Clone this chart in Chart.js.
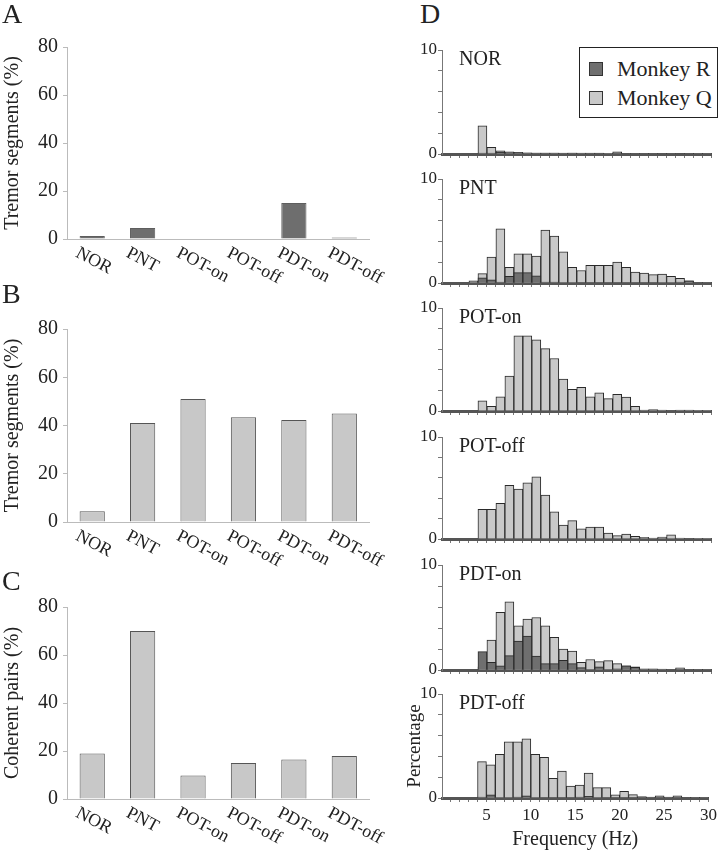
<!DOCTYPE html>
<html>
<head>
<meta charset="utf-8">
<title>Tremor segments, coherent pairs and tremor frequency</title>
<script src="https://cdn.jsdelivr.net/npm/chart.js@4.4.1/dist/chart.umd.min.js"></script>
<style>
  body { margin: 0; background: #fff; }
  #fig { position: relative; width: 720px; height: 853px; overflow: hidden;
         font-family: "Liberation Serif", "DejaVu Serif", serif; color: #222; }
  #fig canvas { position: absolute; }
  .letter { position: absolute; font-size: 28px; line-height: 28px; }
  #legend { position: absolute; left: 579px; top: 47px; width: 139px; height: 71px;
            border: 1px solid #222; box-sizing: border-box; background: #fff; }
  #legend .sw { position: absolute; left: 9px; width: 14px; height: 14px; box-sizing: border-box; border: 1px solid #333; }
  #legend .tx { position: absolute; left: 37px; font-size: 22px; line-height: 22px; white-space: nowrap; }
</style>
</head>
<body>
<div id="fig">
  <canvas id="chartA"></canvas>
  <canvas id="chartB"></canvas>
  <canvas id="chartC"></canvas>
  <canvas id="histNOR"></canvas>
  <canvas id="histPNT"></canvas>
  <canvas id="histPOTon"></canvas>
  <canvas id="histPOToff"></canvas>
  <canvas id="histPDTon"></canvas>
  <canvas id="histPDToff"></canvas>

  <div class="letter" style="left:2px;top:0px">A</div>
  <div class="letter" style="left:2px;top:280px">B</div>
  <div class="letter" style="left:2px;top:567px">C</div>
  <div class="letter" style="left:420px;top:0px">D</div>

  <div id="legend">
    <div class="sw" style="top:14px;background:#6f6f6f"></div>
    <div class="tx" style="top:10px">Monkey R</div>
    <div class="sw" style="top:43px;background:#c9c9c9"></div>
    <div class="tx" style="top:39px">Monkey Q</div>
  </div>
</div>

<script>
// ---- data ----
const groups = ['NOR', 'PNT', 'POT-on', 'POT-off', 'PDT-on', 'PDT-off'];
const tremorSegmentsA = [1.2, 4.6, 0, 0, 15, 0.6];
const tremorSegmentsB = [4.5, 41, 51, 43.4, 42.3, 45];
const coherentPairsC = [19, 70, 9.8, 15, 16.5, 17.9];
const leftYTicks = [0, 20, 40, 60, 80];

// 1 Hz bins, upper edge of each bin
const freqBins = [1, 2, 3, 4, 5, 6, 7, 8, 9, 10, 11, 12, 13, 14, 15,
                  16, 17, 18, 19, 20, 21, 22, 23, 24, 25, 26, 27, 28, 29, 30];
const freqLabels = [5, 10, 15, 20, 25, 30];
const histYTicks = [0, 2, 4, 6, 8, 10];
const histYLabels = [0, 10];

const norQ = [0, 0, 0, 0, 2.7, 0.65, 0.3, 0.2, 0.15, 0.12, 0.1, 0.1, 0.08, 0.1, 0.08,
              0.06, 0.08, 0.05, 0.06, 0.2, 0.05, 0.05, 0.04, 0.05, 0.04, 0.05, 0.05, 0.04, 0.03, 0.03];
const norR = [0, 0, 0, 0, 0.1, 0.1, 0.15, 0.12, 0.1, 0.1, 0.08, 0.08, 0.1, 0.06, 0.08,
              0.1, 0.06, 0.1, 0.05, 0.08, 0.06, 0.05, 0.06, 0.05, 0.04, 0.05, 0.04, 0.03, 0.03, 0.02];
const pntQ = [0, 0, 0, 0.2, 0.9, 2.5, 5.2, 1.5, 2.8, 2.8, 2.6, 5.1, 4.5, 3.0, 1.5,
              1.2, 1.7, 1.7, 1.7, 2.0, 1.5, 1.05, 0.95, 0.8, 0.85, 0.65, 0.45, 0.2, 0.05, 0.03];
const pntR = [0, 0, 0, 0, 0.5, 0.3, 0.1, 0.65, 1.0, 1.0, 0.7, 0.1, 0.1, 0.05, 0.05,
              0.03, 0.03, 0.03, 0.03, 0.03, 0.03, 0.03, 0.03, 0.03, 0.05, 0.05, 0.1, 0.2, 0.05, 0.03];
const potOnQ = [0, 0, 0, 0, 0.98, 0.45, 1.37, 3.4, 7.3, 7.3, 6.9, 6.05, 5.1, 3.1, 2.1,
                2.3, 1.37, 1.76, 1.2, 1.63, 1.34, 0.45, 0.1, 0.13, 0.1, 0.05, 0.08, 0.1, 0.03, 0.02];
const potOnR = [0, 0, 0, 0, 0, 0, 0, 0, 0, 0, 0, 0, 0, 0, 0,
                0, 0, 0, 0, 0, 0, 0, 0, 0, 0, 0, 0, 0, 0, 0];
const potOffQ = [0, 0, 0, 0, 2.9, 2.9, 3.5, 5.26, 4.9, 5.5, 6.1, 4.3, 2.66, 1.36, 1.8,
                 1.0, 1.17, 1.17, 0.58, 0.33, 0.49, 0.26, 0.16, 0.1, 0.2, 0.4, 0.1, 0.05, 0.02, 0.02];
const potOffR = [0, 0, 0, 0, 0, 0, 0, 0, 0, 0, 0, 0, 0, 0, 0,
                 0, 0, 0, 0, 0, 0, 0, 0, 0, 0, 0, 0, 0, 0, 0];
const pdtOnQ = [0, 0, 0, 0, 0.3, 2.86, 5.5, 6.5, 4.2, 4.86, 5.0, 4.2, 3.1, 2.0, 1.8,
                0.73, 1.0, 0.8, 0.9, 0.6, 0.4, 0.3, 0.1, 0.1, 0.08, 0.05, 0.2, 0.05, 0.03, 0.02];
const pdtOnR = [0, 0, 0, 0, 1.75, 0.73, 0.4, 1.37, 2.76, 3.24, 1.33, 0.6, 0.6, 0.92, 0.6,
                0.22, 0.05, 0.3, 0.05, 0.1, 0.4, 0.25, 0.05, 0.05, 0.05, 0.05, 0.1, 0.05, 0.02, 0.02];
const pdtOffQ = [0, 0, 0, 0, 3.5, 3.2, 4.2, 5.4, 5.4, 5.7, 4.2, 3.9, 1.9, 2.6, 1.15,
                 1.25, 2.4, 1.0, 1.0, 0.3, 0.64, 0.32, 0.13, 0.1, 0.2, 0.1, 0.2, 0.05, 0.02, 0.02];
const pdtOffR = [0, 0, 0, 0, 0.1, 0.3, 0.05, 0.05, 0.1, 0.2, 0.05, 0.03, 0.03, 0.03, 0.03,
                 0.1, 0.15, 0.05, 0.03, 0.03, 0.03, 0.03, 0.03, 0.03, 0.03, 0.03, 0.03, 0.03, 0.02, 0.02];

document.addEventListener('DOMContentLoaded', function() {
    const serif = '"Liberation Serif", "DejaVu Serif", serif';
    const ink = '#222';

    // canvas placement helper (px inside the 720x853 figure)
    function place(canvas, left, top, width, height) {
        canvas.width = width;
        canvas.height = height;
        canvas.style.left = left + 'px';
        canvas.style.top = top + 'px';
    }

    // category labels slanted downwards, starting under each bar
    const slantedLabels = {
        id: 'slantedLabels',
        afterDraw(chart) {
            const xs = chart.scales.x;
            const y0 = chart.scales.y.getPixelForValue(0);
            const ctx = chart.ctx;
            ctx.save();
            ctx.font = '18px ' + serif;
            ctx.fillStyle = ink;
            ctx.textAlign = 'left';
            ctx.textBaseline = 'top';
            groups.forEach((g, i) => {
                ctx.save();
                ctx.translate(xs.getPixelForValue(i) - 11, y0 + 5);
                ctx.rotate(28 * Math.PI / 180);
                ctx.fillText(g, 0, 0);
                ctx.restore();
            });
            ctx.restore();
        }
    };

    // condition name in the upper left of each histogram
    const panelName = {
        id: 'panelName',
        afterDraw(chart, args, opts) {
            const ctx = chart.ctx;
            ctx.save();
            ctx.font = '20px ' + serif;
            ctx.fillStyle = ink;
            ctx.textAlign = 'left';
            ctx.textBaseline = 'alphabetic';
            ctx.fillText(opts.text, chart.chartArea.left + 17, chart.chartArea.top + 15);
            ctx.restore();
        }
    };

    // ---- panels A, B, C ----
    function groupChart(id, values, yTitle, fill, edge, top80, base0, canvasTop, canvasBottom) {
        const canvas = document.getElementById(id);
        place(canvas, 0, canvasTop, 410, canvasBottom - canvasTop);
        return new Chart(canvas, {
            type: 'bar',
            data: {
                labels: groups,
                datasets: [{
                    data: values,
                    backgroundColor: fill,
                    borderColor: edge,
                    borderWidth: 1,
                    barPercentage: 0.5,
                    categoryPercentage: 1
                }]
            },
            options: {
                responsive: false,
                animation: false,
                layout: { padding: { top: top80 - canvasTop, right: 40.5, left: 0, bottom: 0 } },
                plugins: { legend: { display: false }, tooltip: { enabled: false } },
                scales: {
                    x: {
                        ticks: { display: false },
                        grid: { display: false },
                        border: { color: '#bbb', width: 1 },
                        afterFit: s => { s.height = canvasBottom - base0; }
                    },
                    y: {
                        min: 0,
                        max: 80,
                        afterBuildTicks: s => { s.ticks = leftYTicks.map(v => ({ value: v })); },
                        ticks: { font: { family: serif, size: 20 }, color: ink, padding: 5, autoSkip: false },
                        grid: { drawOnChartArea: false, tickLength: 4, color: '#bbb' },
                        border: { color: '#bbb', width: 1 },
                        title: {
                            display: true,
                            text: yTitle,
                            font: { family: serif, size: 20 },
                            color: ink,
                            padding: { top: 1, bottom: 0 }
                        },
                        afterFit: s => { s.width = 67; }
                    }
                }
            },
            plugins: [slantedLabels]
        });
    }

    groupChart('chartA', tremorSegmentsA, 'Tremor segments (%)', '#6e6e6e', '#5e5e5e', 47, 239, 25, 292);
    groupChart('chartB', tremorSegmentsB, 'Tremor segments (%)', '#c8c8c8', '#555', 329, 522, 305, 575);
    groupChart('chartC', coherentPairsC, 'Coherent pairs (%)', '#c8c8c8', '#555', 607, 799, 585, 853);

    // ---- panel D histograms ----
    const toPoints = vals => freqBins.map((f, i) => ({ x: f - 0.5, y: vals[i] }));

    function histChart(id, name, qVals, rVals, top10, base0, isBottom) {
        const canvas = document.getElementById(id);
        const canvasTop = top10 - 14;
        const canvasBottom = isBottom ? 853 : base0 + 14;
        place(canvas, 400, canvasTop, 320, canvasBottom - canvasTop);
        return new Chart(canvas, {
            type: 'bar',
            data: {
                datasets: [
                    // Monkey R first so it is drawn in front
                    { label: 'Monkey R', data: toPoints(rVals), backgroundColor: '#6f6f6f',
                      borderColor: '#2a2a2a', borderWidth: 1, grouped: false,
                      barPercentage: 1, categoryPercentage: 1 },
                    { label: 'Monkey Q', data: toPoints(qVals), backgroundColor: '#c9c9c9',
                      borderColor: '#2a2a2a', borderWidth: 1, grouped: false,
                      barPercentage: 1, categoryPercentage: 1 }
                ]
            },
            options: {
                responsive: false,
                animation: false,
                layout: { padding: { top: 14, right: 8.5, left: 0, bottom: 0 } },
                plugins: {
                    legend: { display: false },
                    tooltip: { enabled: false },
                    panelName: { text: name }
                },
                scales: {
                    x: {
                        type: 'linear',
                        min: 0,
                        max: 30,
                        offset: false,
                        afterBuildTicks: s => { s.ticks = freqBins.map(v => ({ value: v })); },
                        ticks: {
                            display: isBottom,
                            autoSkip: false,
                            maxRotation: 0,
                            padding: 3,
                            font: { family: serif, size: 17 },
                            color: ink,
                            callback: v => freqLabels.includes(v) ? String(v) : ''
                        },
                        grid: { drawOnChartArea: false, tickLength: 4, color: '#777', offset: false },
                        border: { color: '#555', width: 3 },
                        title: {
                            display: isBottom,
                            text: 'Frequency (Hz)',
                            font: { family: serif, size: 20 },
                            color: ink,
                            padding: { top: 0, bottom: 1 }
                        },
                        afterFit: s => { s.height = canvasBottom - base0; }
                    },
                    y: {
                        min: 0,
                        max: 10,
                        afterBuildTicks: s => { s.ticks = histYTicks.map(v => ({ value: v })); },
                        ticks: {
                            font: { family: serif, size: 17 },
                            color: ink,
                            padding: 1,
                            autoSkip: false,
                            callback: v => histYLabels.includes(v) ? String(v) : ''
                        },
                        grid: { drawOnChartArea: false, tickLength: 4, color: '#777' },
                        border: { color: '#777', width: 1 },
                        title: {
                            display: isBottom,
                            text: 'Percentage',
                            font: { family: serif, size: 19 },
                            color: ink,
                            padding: { top: 4, bottom: 0 }
                        },
                        afterFit: s => { s.width = 42; }
                    }
                }
            },
            plugins: [panelName]
        });
    }

    histChart('histNOR', 'NOR', norQ, norR, 50, 154, false);
    histChart('histPNT', 'PNT', pntQ, pntR, 179, 283, false);
    histChart('histPOTon', 'POT-on', potOnQ, potOnR, 308, 411, false);
    histChart('histPOToff', 'POT-off', potOffQ, potOffR, 437, 539, false);
    histChart('histPDTon', 'PDT-on', pdtOnQ, pdtOnR, 565, 670, false);
    histChart('histPDToff', 'PDT-off', pdtOffQ, pdtOffR, 694, 798, true);
});
</script>
</body>
</html>
